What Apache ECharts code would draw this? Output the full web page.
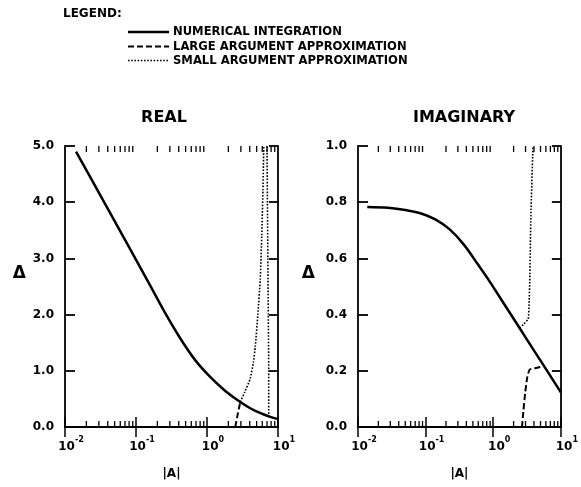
<!DOCTYPE html>
<html>
<head>
<meta charset="utf-8">
<script src="https://cdn.jsdelivr.net/npm/echarts@6/dist/echarts.min.js"></script>
<style>html,body{margin:0;padding:0;background:#fff}#c{width:581px;height:487px}</style>
</head>
<body>
<div id="c"></div>
<script>
// ---- data ----
const legendTitle = 'LEGEND:';
const legendNames = ['NUMERICAL INTEGRATION', 'LARGE ARGUMENT APPROXIMATION', 'SMALL ARGUMENT APPROXIMATION'];
const panelTitles = ['REAL', 'IMAGINARY'];
const xTickExponents = ['-2', '-1', '0', '1'];
const xMinorTickValues = [0.02,0.03,0.04,0.05,0.06,0.07,0.08,0.09,0.2,0.3,0.4,0.5,0.6,0.7,0.8,0.9,2,3,4,5,6,7,8,9];
const realYTicks = [0, 1, 2, 3, 4, 5];
const imagYTicks = [0, 0.2, 0.4, 0.6, 0.8, 1.0];

const realNumerical = [[0.0143,4.90],[0.0312,4.13],[0.0701,3.33],[0.158,2.52],[0.257,2.03],[0.419,1.58],[0.682,1.19],[1.11,0.89],[1.81,0.64],[2.94,0.445],[4.79,0.285],[7.78,0.18],[10,0.14]];
const realLarge = [[2.5,0],[2.7,0.22],[2.94,0.445]];
const realSmallA = [[2.94,0.445],[3.4,0.62],[4.06,0.86],[4.5,1.15],[4.79,1.43],[5.2,2.0],[5.62,2.62],[5.9,3.4],[6.14,4.22],[6.3,5.0]];
const realSmallB = [[7.4,0.18],[7.4,1.0],[7.3,2.0],[7.2,3.0],[7.1,4.0],[7.0,5.0]];

const imagNumerical = [[0.0137,0.783],[0.0277,0.780],[0.0528,0.771],[0.0857,0.760],[0.139,0.739],[0.225,0.704],[0.365,0.650],[0.592,0.579],[0.863,0.522],[1.556,0.426],[2.52,0.348],[4.08,0.269],[6.62,0.191],[10,0.123]];
const imagLarge = [[2.66,0],[2.8,0.06],[2.96,0.12],[3.2,0.18],[3.47,0.205],[4.31,0.21],[5.33,0.215]];
const imagSmall = [[2.45,0.352],[2.8,0.365],[3.29,0.385],[3.4,0.45],[3.47,0.52],[3.6,0.75],[3.87,1.0]];

// ---- chart ----
const FONT = 'DejaVu Sans';
const chart = echarts.init(document.getElementById('c'), null, {renderer: 'canvas'});

function xAxisCfg(grid, pos) {
  const bottom = pos === 'bottom';
  return {
    type: 'log', logBase: 10, min: 0.01, max: 10, gridIndex: grid, position: pos,
    name: bottom ? '|A|' : '', nameLocation: 'middle', nameGap: 41,
    nameTextStyle: {fontFamily: FONT, fontWeight: 'bold', fontSize: 12, color: '#000'},
    axisLine: {show: true, lineStyle: {color: '#000', width: 1.8}},
    axisTick: {show: true, inside: true, length: 10, lineStyle: {color: '#000', width: 1.5}},
    splitLine: {show: false},
    axisLabel: {
      show: bottom, margin: 9, padding: [0, 0, 0, 12],
      formatter: function (v) {
        const e = Math.round(Math.log10(v));
        const idx = e + 2;
        return '{b|10}{s|' + xTickExponents[idx] + '}';
      },
      rich: {
        b: {fontFamily: FONT, fontWeight: 'bold', fontSize: 12, color: '#000', lineHeight: 17, verticalAlign: 'bottom'},
        s: {fontFamily: FONT, fontWeight: 'bold', fontSize: 8, color: '#000', lineHeight: 17, verticalAlign: 'top'}
      }
    }
  };
}
function yAxisCfg(grid, pos, max, interval, tickLen) {
  const left = pos === 'left';
  return {
    type: 'value', min: 0, max: max, interval: interval, gridIndex: grid, position: pos,
    name: left ? 'Δ' : '', nameLocation: 'middle', nameRotate: 0, nameGap: grid === 0 ? 39 : 43,
    nameTextStyle: {fontFamily: FONT, fontWeight: 'bold', fontSize: 17, color: '#000', verticalAlign: 'bottom', padding: [0, 0, 4, 0]},
    axisLine: {show: true, lineStyle: {color: '#000', width: 1.8}},
    axisTick: {show: true, inside: true, length: tickLen, lineStyle: {color: '#000', width: 1.8}},
    splitLine: {show: false},
    axisLabel: {
      show: left, margin: 11, fontFamily: FONT, fontWeight: 'bold', fontSize: 12, color: '#000',
      formatter: function (v) { return v.toFixed(1); }
    }
  };
}

function minorTicks(xi, yi, ymax) {
  return {
    type: 'custom', xAxisIndex: xi, yAxisIndex: yi, silent: true, z: 5,
    data: xMinorTickValues.map(v => [v, 0]),
    renderItem: function (params, api) {
      const x = api.value(0);
      const pb = api.coord([x, 0]);
      const pt = api.coord([x, ymax]);
      const st = {stroke: '#000', lineWidth: 1.3};
      return {type: 'group', children: [
        {type: 'line', shape: {x1: pb[0], y1: pb[1], x2: pb[0], y2: pb[1] - 6}, style: st},
        {type: 'line', shape: {x1: pt[0], y1: pt[1], x2: pt[0], y2: pt[1] + 6}, style: st}
      ]};
    }
  };
}

function line(data, xi, yi, kind) {
  const ls = kind === 'solid' ? {color: '#000', width: 2.5, type: 'solid'}
           : kind === 'dashed' ? {color: '#000', width: 2, type: [6, 3]}
           : {color: '#000', width: 1.6, type: [1.6, 1.6]};
  return {type: 'line', xAxisIndex: xi, yAxisIndex: yi, data: data, showSymbol: false, symbol: 'none',
          smooth: kind === 'solid' ? 0.35 : 0.15, lineStyle: ls, silent: true, animation: false, z: 3};
}

const legendGraphics = [
  {type: 'text', left: 63, top: 8, style: {text: legendTitle, fontFamily: FONT, fontWeight: 'bold', fontSize: 12, fill: '#000'}}
];
const rowsY = [32, 46.5, 60.5];
const dashes = [null, [6, 3], [1.6, 1.6]];
const widths = [2.5, 2, 1.6];
for (let i = 0; i < 3; i++) {
  legendGraphics.push({type: 'line', shape: {x1: 128, y1: rowsY[i], x2: 169, y2: rowsY[i]},
    style: {stroke: '#000', lineWidth: widths[i], lineDash: dashes[i]}});
  legendGraphics.push({type: 'text', x: 173, y: rowsY[i],
    style: {text: legendNames[i], fontFamily: FONT, fontWeight: 'bold', fontSize: 11.6, fill: '#000', verticalAlign: 'middle'}});
}
legendGraphics.push({type: 'text', x: 164, y: 118, style: {text: panelTitles[0], fontFamily: FONT, fontWeight: 'bold', fontSize: 16, fill: '#000', align: 'center', verticalAlign: 'middle'}});
legendGraphics.push({type: 'text', x: 464, y: 118, style: {text: panelTitles[1], fontFamily: FONT, fontWeight: 'bold', fontSize: 16, fill: '#000', align: 'center', verticalAlign: 'middle'}});

chart.setOption({
  animation: false,
  backgroundColor: '#fff',
  grid: [
    {left: 65, top: 146, width: 213, height: 281},
    {left: 358, top: 146, width: 215, height: 281}
  ],
  xAxis: [xAxisCfg(0, 'bottom'), xAxisCfg(0, 'top'), xAxisCfg(1, 'bottom'), xAxisCfg(1, 'top')],
  yAxis: [
    yAxisCfg(0, 'left', realYTicks[realYTicks.length - 1], realYTicks[1] - realYTicks[0], 10),
    yAxisCfg(0, 'right', realYTicks[realYTicks.length - 1], realYTicks[1] - realYTicks[0], 9),
    yAxisCfg(1, 'left', imagYTicks[imagYTicks.length - 1], imagYTicks[1] - imagYTicks[0], 10),
    yAxisCfg(1, 'right', imagYTicks[imagYTicks.length - 1], imagYTicks[1] - imagYTicks[0], 9)
  ],
  graphic: legendGraphics,
  series: [
    line(realNumerical, 0, 0, 'solid'),
    line(realLarge, 0, 0, 'dashed'),
    line(realSmallA, 0, 0, 'dotted'),
    line(realSmallB, 0, 0, 'dotted'),
    line(imagNumerical, 2, 2, 'solid'),
    line(imagLarge, 2, 2, 'dashed'),
    line(imagSmall, 2, 2, 'dotted'),
    minorTicks(0, 0, realYTicks[realYTicks.length - 1]),
    minorTicks(2, 2, imagYTicks[imagYTicks.length - 1])
  ]
});
</script>
</body>
</html>
